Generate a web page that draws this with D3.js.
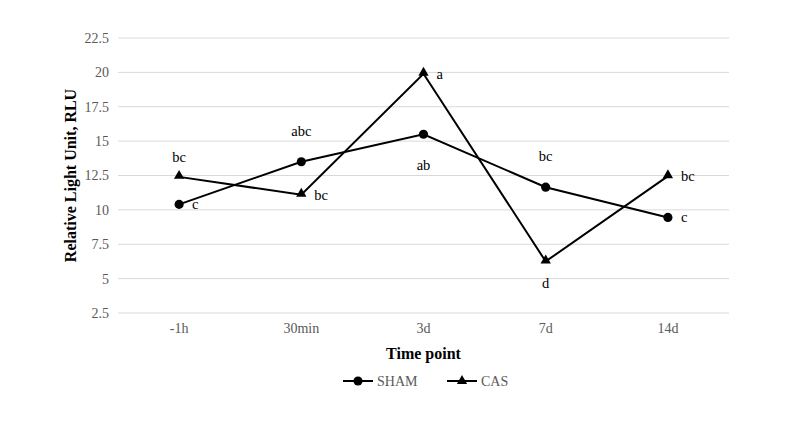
<!DOCTYPE html>
<html><head><meta charset="utf-8">
<script src="https://cdn.jsdelivr.net/npm/d3@7"></script>
<style>body{margin:0;background:#fff}svg{display:block}</style>
</head><body>
<svg id="c" width="785" height="437"></svg>
<script>
const categories = ["-1h", "30min", "3d", "7d", "14d"];
const shamValues = [10.4, 13.5, 15.5, 11.65, 9.45];
const casValues = [12.4, 11.1, 19.9, 6.25, 12.45];
const shamLabels = ["c", "abc", "ab", "bc", "c"];
const casLabels = ["bc", "bc", "a", "d", "bc"];
const shamLabelPos = ["right", "aboveFar", "belowFar", "aboveFar", "right"];
const casLabelPos = ["above", "right", "right", "below", "right"];
const yTicks = [2.5, 5, 7.5, 10, 12.5, 15, 17.5, 20, 22.5];

const svg = d3.select("#c");
const font = "'Liberation Serif','Times New Roman',serif";
const L = 118, R = 729, T = 38, B = 313;
const x = d3.scaleBand().domain(categories).range([L, R]);
const y = d3.scaleLinear().domain([2.5, 22.5]).range([B, T]);
const cx = c => x(c) + x.bandwidth() / 2;

// gridlines
svg.append("g").selectAll("line").data(yTicks).join("line")
  .attr("x1", L).attr("x2", R).attr("y1", d => y(d)).attr("y2", d => y(d))
  .attr("stroke", "#d9d9d9").attr("stroke-width", 1);

// y axis
const ya = svg.append("g").attr("transform", `translate(${L},0)`)
  .call(d3.axisLeft(y).tickValues(yTicks).tickSize(0).tickPadding(9).tickFormat(d => String(d)));
ya.select(".domain").remove();
ya.selectAll("text").attr("font-family", font).attr("font-size", 14).attr("fill", "#595959");

// x axis
const xa = svg.append("g").attr("transform", `translate(0,${B})`)
  .call(d3.axisBottom(x).tickSize(0).tickPadding(10));
xa.select(".domain").remove();
xa.selectAll("text").attr("font-family", font).attr("font-size", 14).attr("fill", "#595959");

// titles
svg.append("text").attr("transform", `translate(76,${(T + B) / 2}) rotate(-90)`)
  .attr("text-anchor", "middle").attr("font-family", font).attr("font-weight", "bold")
  .attr("font-size", 16).attr("fill", "#000").text("Relative Light Unit, RLU");
svg.append("text").attr("x", (L + R) / 2).attr("y", 359).attr("text-anchor", "middle")
  .attr("font-family", font).attr("font-weight", "bold").attr("font-size", 16)
  .attr("fill", "#000").text("Time point");

const dyMap = {right: 5, above: -15, aboveFar: -26, below: 27, belowFar: 36};
const line = d3.line().x((d, i) => cx(categories[i])).y(d => y(d));
function series(vals, labels, pos, shape) {
  svg.append("path").datum(vals).attr("d", line).attr("fill", "none")
    .attr("stroke", "#000").attr("stroke-width", 2);
  const sym = d3.symbol().type(shape === "circle" ? d3.symbolCircle : d3.symbolTriangle)
    .size(shape === "circle" ? 66 : 46);
  svg.append("g").selectAll("path").data(vals).join("path")
    .attr("d", sym).attr("fill", "#000")
    .attr("transform", (d, i) => `translate(${cx(categories[i])},${y(d) + (shape === "circle" ? 0 : -1)})`);
  svg.append("g").selectAll("text").data(vals).join("text")
    .attr("font-family", font).attr("font-size", 14.5).attr("fill", "#000")
    .attr("x", (d, i) => pos[i] === "right" ? cx(categories[i]) + 13 : cx(categories[i]))
    .attr("y", (d, i) => y(d) + dyMap[pos[i]])
    .attr("text-anchor", (d, i) => pos[i] === "right" ? "start" : "middle")
    .text((d, i) => labels[i]);
}
series(shamValues, shamLabels, shamLabelPos, "circle");
series(casValues, casLabels, casLabelPos, "triangle");

// legend
const legend = [{name: "SHAM", shape: d3.symbolCircle, size: 66, x: 343},
                {name: "CAS", shape: d3.symbolTriangle, size: 46, x: 447}];
const lg = svg.append("g").selectAll("g").data(legend).join("g")
  .attr("transform", d => `translate(${d.x},381)`);
lg.append("line").attr("x1", 0).attr("x2", 30).attr("stroke", "#000").attr("stroke-width", 2);
lg.append("path").attr("d", d => d3.symbol().type(d.shape).size(d.size)()).attr("transform", "translate(15,0)");
lg.append("text").attr("x", 34).attr("y", 5).attr("font-family", font).attr("font-size", 14)
  .attr("fill", "#595959").text(d => d.name);
</script>
</body></html>
